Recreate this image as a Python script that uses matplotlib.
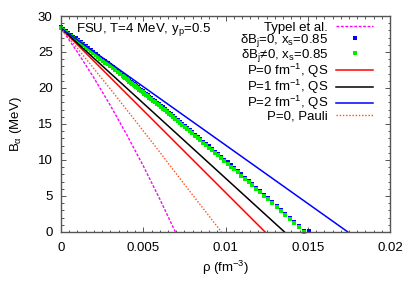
import numpy as np
import matplotlib
matplotlib.use('Agg')
import matplotlib.pyplot as plt
from matplotlib.ticker import MultipleLocator

plt.rcParams['font.family'] = ['Liberation Sans', 'DejaVu Sans']
plt.rcParams['font.size'] = 9.5
plt.rcParams['mathtext.fontset'] = 'custom'
plt.rcParams['mathtext.rm'] = 'Liberation Sans'
plt.rcParams['mathtext.it'] = 'Liberation Sans'
plt.rcParams['mathtext.default'] = 'regular'

# Typel et al.
rho_typel = [0.0, 0.001, 0.002, 0.003, 0.004, 0.005, 0.006, 0.00695]
B_typel = [28.3, 24.98, 21.40, 17.57, 13.49, 9.17, 4.58, 0.0]

# P=0, Pauli
rho_pauli = [0.0, 0.0015, 0.003, 0.0045, 0.006, 0.0075, 0.00975]
B_pauli = [28.3, 24.1, 19.85, 15.5, 11.1, 6.6, 0.0]

# QS lines, P = 0, 1, 2 fm^-1
rho_P0 = [0.0, 0.0124]
B_P0 = [28.3, 0.0]
rho_P1 = [0.0, 0.01358]
B_P1 = [28.3, 0.0]
rho_P2 = [0.0, 0.01743]
B_P2 = [28.3, 0.0]

# dBj != 0, x_s = 0.85 (green points)
rho_dB = [0.0, 0.00015, 0.0003, 0.00045, 0.0006, 0.00075, 0.0009, 0.00105,
          0.0012, 0.00135, 0.0015, 0.00165, 0.0018, 0.00195, 0.0021, 0.00225,
          0.0024, 0.00255, 0.0027, 0.00285, 0.003, 0.00315, 0.0033, 0.00345,
          0.0036, 0.00376, 0.00384, 0.00391, 0.00399, 0.00407, 0.00415, 0.00424,
          0.00432, 0.00441, 0.00449, 0.00458, 0.00468, 0.00477, 0.00486, 0.00496,
          0.00506, 0.00516, 0.00527, 0.00537, 0.00548, 0.00559, 0.0057, 0.00581,
          0.00593, 0.00605, 0.00617, 0.00629, 0.00642, 0.00655, 0.00668, 0.00681,
          0.00695, 0.00709, 0.00723, 0.00737, 0.00752, 0.00767, 0.00783, 0.00798,
          0.00814, 0.00831, 0.00847, 0.00864, 0.00881, 0.00899, 0.00917, 0.00935,
          0.00954, 0.00973, 0.00993, 0.01012, 0.01033, 0.01053, 0.01074, 0.01096,
          0.01118, 0.0114, 0.01163, 0.01186, 0.0121, 0.01234, 0.01259, 0.01284,
          0.0131, 0.01336, 0.01363, 0.0139, 0.01418, 0.01446, 0.01475]
B_dBneq = [28.30, 28.04, 27.78, 27.52, 27.26, 26.99, 26.73, 26.47,
           26.20, 25.94, 25.68, 25.41, 25.14, 24.88, 24.61, 24.34,
           24.07, 23.80, 23.54, 23.27, 22.99, 22.72, 22.45, 22.18,
           21.91, 21.62, 21.47, 21.34, 21.19, 21.05, 20.90, 20.74,
           20.59, 20.42, 20.28, 20.11, 19.93, 19.76, 19.59, 19.41,
           19.22, 19.04, 18.83, 18.64, 18.44, 18.23, 18.03, 17.82,
           17.60, 17.37, 17.14, 16.92, 16.67, 16.43, 16.18, 15.93,
           15.67, 15.40, 15.13, 14.86, 14.58, 14.29, 13.98, 13.69,
           13.38, 13.05, 12.74, 12.41, 12.08, 11.73, 11.37, 11.02,
           10.65, 10.27, 9.88, 9.50, 9.08, 8.69, 8.27, 7.83,
           7.38, 6.94, 6.48, 6.01, 5.52, 5.03, 4.52, 4.01,
           3.48, 2.94, 2.38, 1.82, 1.24, 0.65, 0.04]
# dBj = 0 (blue points): sits about 0.15 MeV above, one extra point at the end
rho_dB0 = rho_dB + [0.01505]
B_dB0 = [b + 0.15 for b in B_dBneq] + [0.1]

xticks = [0, 0.005, 0.01, 0.015, 0.02]
xticklabels = ['0', '0.005', '0.01', '0.015', '0.02']
yticks = [0, 5, 10, 15, 20, 25, 30]

fig, ax = plt.subplots(figsize=(4.15, 2.91), dpi=100)
fig.subplots_adjust(left=0.147, right=0.940, top=0.945, bottom=0.203)

ax.plot(rho_typel, B_typel, color='#ff00ff', lw=1.0, dashes=(2, 1.2), label='Typel et al.')
ax.plot(rho_dB0, B_dB0, ls='none', marker='s', ms=2.5, mew=0, color='#0000ff',
        label=r'δB$_j$=0, x$_s$=0.85', clip_on=False)
ax.plot(rho_dB, B_dBneq, ls='none', marker='s', ms=2.5, mew=0, color='#00ee00',
        label=r'δB$_j$≠0, x$_s$=0.85', clip_on=False)
ax.plot(rho_P0, B_P0, color='#ff0000', lw=1.1, label=r'P=0 fm$^{-1}$, QS')
ax.plot(rho_P1, B_P1, color='black', lw=1.1, label=r'P=1 fm$^{-1}$, QS')
ax.plot(rho_P2, B_P2, color='#0000ff', lw=1.1, label=r'P=2 fm$^{-1}$, QS')
ax.plot(rho_pauli, B_pauli, color='#ff5010', lw=1.0, dashes=(1, 1.3), label='P=0, Pauli')

ax.set_xlim(0, 0.02)
ax.set_ylim(0, 30)
ax.set_xticks(xticks)
ax.set_xticklabels(xticklabels)
ax.set_yticks(yticks)
ax.xaxis.set_minor_locator(MultipleLocator(0.0005))
ax.yaxis.set_minor_locator(MultipleLocator(1))
ax.tick_params(which='both', direction='in', top=True, right=True, width=0.7, color='#555555')
ax.tick_params(which='major', length=3.5)
ax.tick_params(which='minor', length=1.8)
ax.tick_params(axis='x', pad=7)
ax.tick_params(axis='y', pad=6)
for s in ax.spines.values():
    s.set_color('#555555')
    s.set_linewidth(1.0)

ax.set_xlabel(r'ρ (fm$^{-3}$)', labelpad=4)
ax.set_ylabel(r'B$_α$ (MeV)', labelpad=10)
ax.text(0.046, 0.928, r'FSU, T=4 MeV, y$_p$=0.5', transform=ax.transAxes, va='baseline')

leg = ax.legend(loc='upper right', bbox_to_anchor=(0.948, 0.975), frameon=False,
                markerfirst=False, handlelength=2.8, handletextpad=0.6,
                labelspacing=-0.15, borderpad=0, borderaxespad=0, numpoints=1)
# gnuplot-style key: right-aligned text, sample on the right
for col in leg._legend_handle_box.get_children():
    col.align = 'right'

fig.savefig('out.png', dpi=100)
